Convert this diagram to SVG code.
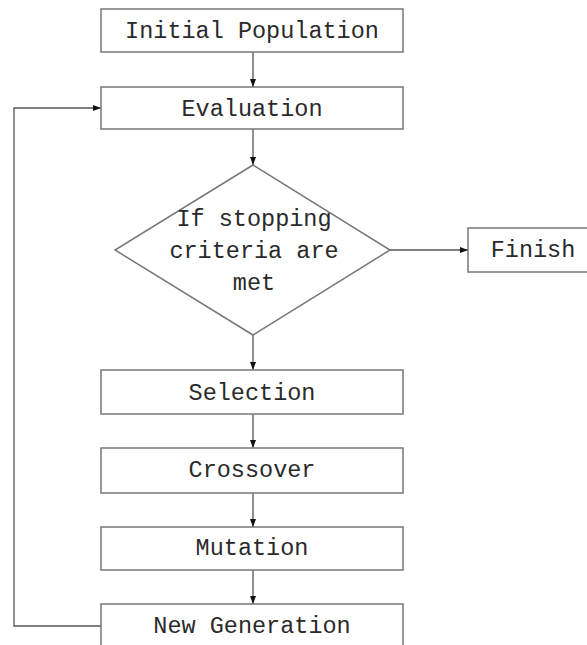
<svg xmlns="http://www.w3.org/2000/svg" width="587" height="645" viewBox="0 0 587 645">
<style>
.box{fill:#fff;stroke:#777;stroke-width:1.5}
.lbl{font-family:"Liberation Mono","Courier New",monospace;font-size:23.5px;fill:#2a2a2a;text-anchor:middle}
.ln{fill:none;stroke:#555;stroke-width:1.3}
</style>
<defs>
<marker id="ah" markerWidth="8" markerHeight="8" refX="8" refY="4" orient="auto" markerUnits="userSpaceOnUse">
<path d="M0,1 L8,4 L0,7 Z" fill="#111"/>
</marker>
</defs>
<rect width="587" height="645" fill="#fff"/>
<g id="connectors">
<line class="ln" x1="253" y1="52" x2="253" y2="87" marker-end="url(#ah)"/>
<line class="ln" x1="253" y1="129" x2="253" y2="165" marker-end="url(#ah)"/>
<line class="ln" x1="390" y1="250" x2="468" y2="250" marker-end="url(#ah)"/>
<line class="ln" x1="253" y1="335" x2="253" y2="370" marker-end="url(#ah)"/>
<line class="ln" x1="253" y1="414" x2="253" y2="448" marker-end="url(#ah)"/>
<line class="ln" x1="253" y1="493" x2="253" y2="527" marker-end="url(#ah)"/>
<line class="ln" x1="253" y1="570" x2="253" y2="604" marker-end="url(#ah)"/>
<polyline class="ln" points="101,626 14,626 14,108 101,108" marker-end="url(#ah)"/>
</g>
<g id="initial">
<rect class="box" x="101" y="9" width="302" height="43"/>
<text class="lbl" x="252" y="38">Initial Population</text>
</g>
<g id="evaluation">
<rect class="box" x="101" y="87" width="302" height="42"/>
<text class="lbl" x="252" y="116">Evaluation</text>
</g>
<g id="decision">
<polygon class="box" points="253,165 390,250 253,335 115,250"/>
<text class="lbl" x="254" y="226">If stopping</text>
<text class="lbl" x="254" y="258">criteria are</text>
<text class="lbl" x="254" y="290">met</text>
</g>
<g id="finish">
<rect class="box" x="468" y="228" width="125" height="44"/>
<text class="lbl" x="533" y="257">Finish</text>
</g>
<g id="selection">
<rect class="box" x="101" y="370" width="302" height="44"/>
<text class="lbl" x="252" y="400">Selection</text>
</g>
<g id="crossover">
<rect class="box" x="101" y="448" width="302" height="45"/>
<text class="lbl" x="252" y="477">Crossover</text>
</g>
<g id="mutation">
<rect class="box" x="101" y="527" width="302" height="43"/>
<text class="lbl" x="252" y="555">Mutation</text>
</g>
<g id="newgen">
<rect class="box" x="101" y="604" width="302" height="50"/>
<text class="lbl" x="252" y="633">New Generation</text>
</g>
</svg>
